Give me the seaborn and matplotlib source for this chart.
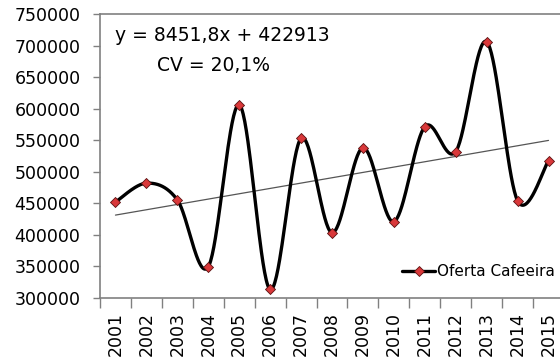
import matplotlib.pyplot as plt
import numpy as np
import pandas as pd
import seaborn as sns


anos = ["2001", "2002", "2003", "2004", "2005", "2006", "2007", "2008",
        "2009", "2010", "2011", "2012", "2013", "2014", "2015"]
oferta = [452000, 482000, 455500, 349500, 606000, 313500, 553000, 403500,
          538000, 421000, 571500, 532000, 706000, 454000, 517500]

# linha de tendência informada no gráfico (x = 1..15)
tend_a = 8451.8
tend_b = 422913
rotulo_eq = "y = 8451,8x + 422913"
rotulo_cv = "CV = 20,1%"
rotulo_serie = "Oferta Cafeeira"
y_ticks = [300000, 350000, 400000, 450000, 500000, 550000, 600000, 650000,
           700000, 750000]

sns.set_theme(style="ticks")
plt.rcParams["font.family"] = ["DejaVu Sans"]
plt.rcParams["text.color"] = "black"
plt.rcParams["xtick.labelcolor"] = "black"
plt.rcParams["ytick.labelcolor"] = "black"

df = pd.DataFrame({"ano": anos, "oferta": oferta})
df["pos"] = np.arange(len(df))


def suavizar(xs, ys, n=40):
    # curva suavizada estilo Excel (Bezier com tangentes de Catmull-Rom)
    pts = np.column_stack([xs, ys]).astype(float)
    ext = np.vstack([pts[0], pts, pts[-1]])
    out = []
    t = np.linspace(0, 1, n)[:, None]
    for i in range(len(pts) - 1):
        p0, p1 = ext[i + 1], ext[i + 2]
        c1 = p0 + (ext[i + 2] - ext[i]) / 6
        c2 = p1 - (ext[i + 3] - ext[i + 1]) / 6
        seg = ((1 - t) ** 3) * p0 + 3 * ((1 - t) ** 2) * t * c1 \
            + 3 * (1 - t) * t ** 2 * c2 + t ** 3 * p1
        out.append(seg)
    out = np.vstack(out)
    return out[:, 0], out[:, 1]


xs, ys = suavizar(df["pos"], df["oferta"])

fig = plt.figure(figsize=(5.6, 3.61), dpi=100)
ax = fig.add_axes([100 / 560, 63 / 361, 464 / 560, 284 / 361])

tx = df["pos"].to_numpy()
ty = tend_a * (tx + 1) + tend_b
ax.plot(tx, ty, color="#555555", lw=0.9, zorder=2)

sns.lineplot(x=xs, y=ys, color="black", lw=2.4, sort=False, ax=ax,
             zorder=3)
sns.scatterplot(data=df, x="pos", y="oferta", marker="D", s=26,
                color="#d9383a", edgecolor="#5a1010", linewidth=0.6,
                ax=ax, zorder=4)

handle = plt.Line2D([], [], color="black", lw=2.4, marker="D",
                    markersize=5, markerfacecolor="#d9383a",
                    markeredgecolor="#5a1010", markeredgewidth=0.6)
ax.legend([handle], [rotulo_serie], loc="lower right",
          bbox_to_anchor=(1.0, 0.035), frameon=False, fontsize=11,
          handlelength=2.2, handletextpad=0.1, borderaxespad=0.2)

ax.text(0.032, 0.923, rotulo_eq, transform=ax.transAxes, fontsize=13.5,
        ha="left", va="center")
ax.text(0.123, 0.82, rotulo_cv, transform=ax.transAxes, fontsize=13.5,
        ha="left", va="center")

ax.set_ylim(300000, 750000)
ax.set_yticks(y_ticks)
ax.set_yticklabels([str(v) for v in y_ticks], fontsize=12.5)
ax.set_xlim(-0.5, len(anos) - 0.5)
ax.set_xticks(df["pos"])
ax.set_xticklabels(anos, rotation=90, fontsize=12.5)
ax.set_xticks(np.arange(-0.5, len(anos), 1), minor=True)
ax.tick_params(axis="x", which="major", length=0, pad=10)
ax.tick_params(axis="x", which="minor", length=7, width=1,
               color="#808080")
ax.tick_params(axis="y", length=5, width=1, color="#808080", pad=9)
ax.set_xlabel("")
ax.set_ylabel("")

for lado in ["left", "bottom", "top"]:
    ax.spines[lado].set_color("#808080")
    ax.spines[lado].set_linewidth(1.2)
ax.spines["right"].set_visible(False)

fig.savefig("out.png", dpi=100)
